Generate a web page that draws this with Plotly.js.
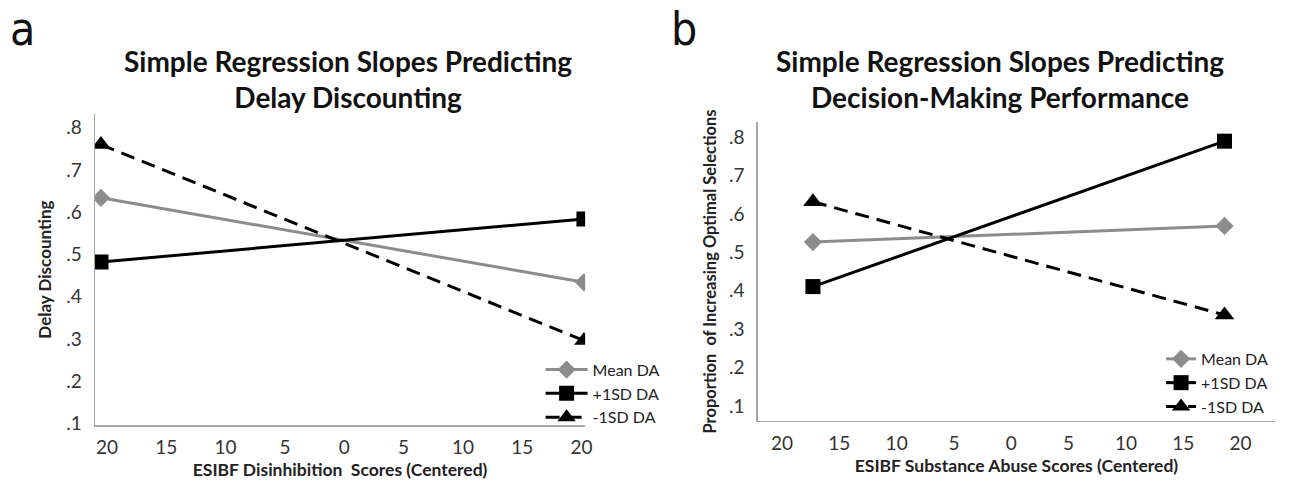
<!DOCTYPE html>
<html>
<head>
<meta charset="utf-8">
<script src="https://cdn.plot.ly/plotly-3.0.1.min.js"></script>
<style>html,body{margin:0;padding:0;background:#fff;}#chart{width:1309px;height:486px;}</style>
</head>
<body>
<div id="chart"></div>
<script>
// Panel a: Delay Discounting
const seriesNames = ["Mean DA", "+1SD DA", "-1SD DA"];
const xA = [-20.5, 20.2];
const meanA = [0.634, 0.434];
const plusA = [0.482, 0.584];
const minusA = [0.760, 0.296];

// Panel b: Decision-Making Performance
const xB = [-17.3, 18.6];
const meanB = [0.527, 0.569];
const plusB = [0.411, 0.790];
const minusB = [0.632, 0.337];

// Tick labels
const xTickVals = [-20, -15, -10, -5, 0, 5, 10, 15, 20];
const xTickText = ["20", "15", "10", "5", "0", "5", "10", "15", "20"];
const yTickVals = [0.1, 0.2, 0.3, 0.4, 0.5, 0.6, 0.7, 0.8];
const yTickText = [".1", ".2", ".3", ".4", ".5", ".6", ".7", ".8"];

const GRAY = "#8c8c8c";
const BLACK = "#000000";
const narrow = "Liberation Sans Narrow, DejaVu Sans Condensed, Liberation Sans, sans-serif";
const body = "Lato, Open Sans, sans-serif";

function traces(x, mean, plus, minus, xa, ya, leg) {
  return [
    {x: x, y: mean, name: seriesNames[0], xaxis: xa, yaxis: ya, legend: leg, mode: "lines+markers",
     line: {color: GRAY, width: 3}, marker: {symbol: "diamond", size: 14, color: GRAY}},
    {x: x, y: plus, name: seriesNames[1], xaxis: xa, yaxis: ya, legend: leg, mode: "lines+markers",
     line: {color: BLACK, width: 3}, marker: {symbol: "square", size: 15, color: BLACK}},
    {x: x, y: minus, name: seriesNames[2], xaxis: xa, yaxis: ya, legend: leg, mode: "lines+markers",
     line: {color: BLACK, width: 3, dash: "14px,8px"}, marker: {symbol: "triangle-up", size: 17, color: BLACK}}
  ];
}

const data = traces(xA, meanA, plusA, minusA, "x", "y", "legend")
  .concat(traces(xB, meanB, plusB, minusB, "x2", "y2", "legend2"));

const axisCommon = {
  showline: true, linecolor: "#a6a6a6", linewidth: 1.5, showgrid: false, zeroline: false,
  ticks: "", tickfont: {family: body, size: 19, color: "#333"}
};

const layout = {
  width: 1309, height: 486,
  margin: {l: 0, r: 0, t: 0, b: 0},
  paper_bgcolor: "#fff", plot_bgcolor: "#fff",
  showlegend: true,
  xaxis: Object.assign({}, axisCommon, {
    domain: [0.0726, 0.447], range: [-21, 20.3], tickvals: xTickVals, ticktext: xTickText,
    ticklabelstandoff: 5,
    title: {text: "<b>ESIBF Disinhibition  Scores (Centered)</b>", font: {family: body, size: 17.5, color: "#222"}, standoff: 6}
  }),
  yaxis: Object.assign({}, axisCommon, {
    domain: [0.1255, 0.765], range: [0.096, 0.832], tickvals: yTickVals, ticktext: yTickText,
    ticklabelstandoff: 8, anchor: "x",
    title: {text: "<b>Delay Discounting</b>", font: {family: body, size: 17, color: "#222"}, standoff: 10}
  }),
  xaxis2: Object.assign({}, axisCommon, {
    domain: [0.579, 0.974], range: [-22.1, 23], tickvals: xTickVals, ticktext: xTickText,
    ticklabelstandoff: 5, anchor: "y2",
    title: {text: "<b>ESIBF Substance Abuse Scores (Centered)</b>", font: {family: body, size: 17.5, color: "#222"}, standoff: 6}
  }),
  yaxis2: Object.assign({}, axisCommon, {
    domain: [0.134, 0.749], range: [0.061, 0.84], tickvals: yTickVals, ticktext: yTickText,
    ticklabelstandoff: 8, anchor: "x2",
    title: {text: "<b>Proportion  of Increasing Optimal Selections</b>", font: {family: body, size: 16.5, color: "#222"}, standoff: 8}
  }),
  legend: {
    x: 0.413, y: 0.19, xanchor: "left", yanchor: "middle", bgcolor: "rgba(0,0,0,0)",
    font: {family: body, size: 16, color: "#222"}, tracegroupgap: 0, itemwidth: 42
  },
  legend2: {
    x: 0.887, y: 0.212, xanchor: "left", yanchor: "middle", bgcolor: "rgba(0,0,0,0)",
    font: {family: body, size: 16, color: "#222"}, tracegroupgap: 0, itemwidth: 30
  },
  annotations: [
    {text: "a", x: 0.006, y: 1.0, xref: "paper", yref: "paper", xanchor: "left", yanchor: "top", showarrow: false,
     font: {family: narrow, size: 46, color: "#111", stretch: "condensed"}},
    {text: "b", x: 0.511, y: 1.0, xref: "paper", yref: "paper", xanchor: "left", yanchor: "top", showarrow: false,
     font: {family: narrow, size: 46, color: "#111", stretch: "condensed"}},
    {text: "<b>Simple Regression Slopes Predicting<br>Delay Discounting</b>", x: 0.266, y: 0.9136, xref: "paper", yref: "paper",
     xanchor: "center", yanchor: "top", showarrow: false, font: {family: body, size: 28, color: "#111"}},
    {text: "<b>Simple Regression Slopes Predicting<br>Decision-Making Performance</b>", x: 0.764, y: 0.9136, xref: "paper", yref: "paper",
     xanchor: "center", yanchor: "top", showarrow: false, font: {family: body, size: 28, color: "#111"}}
  ]
};

Plotly.newPlot("chart", data, layout, {displayModeBar: false, staticPlot: true});
</script>
</body>
</html>
